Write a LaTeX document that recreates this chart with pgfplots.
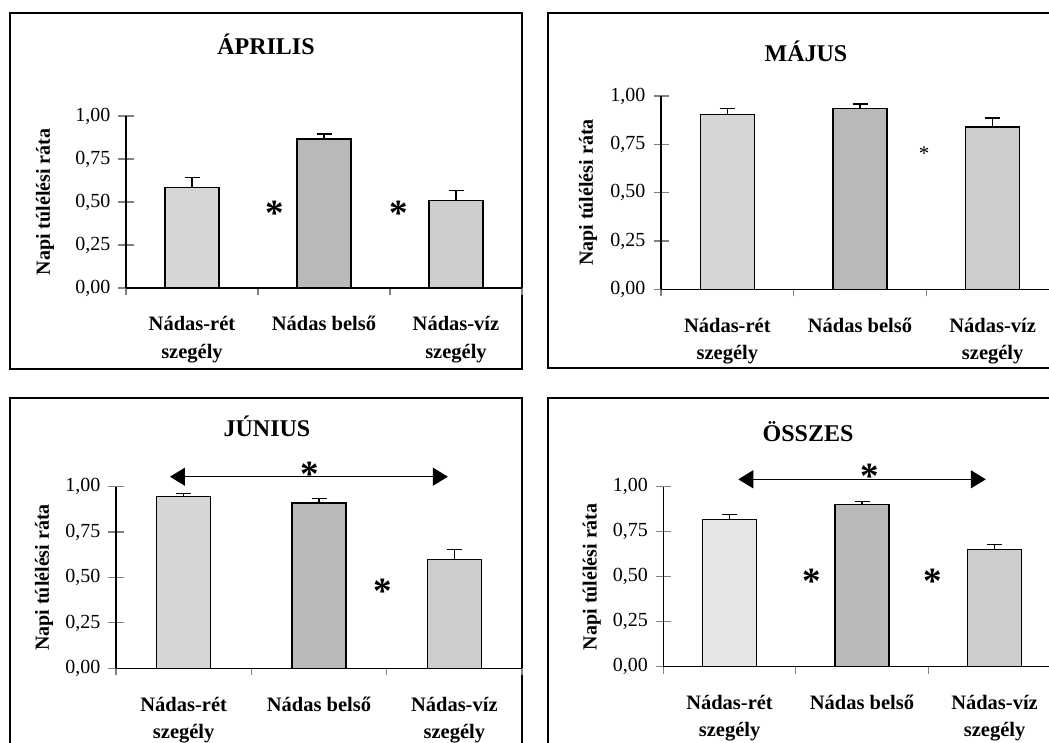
\documentclass[border=0pt]{standalone}
\usepackage{fontspec}
\setmainfont{Liberation Serif}
\usepackage{pgfplots}
\pgfplotsset{compat=1.18}
\usetikzlibrary{arrows.meta}

\definecolor{barA}{HTML}{D6D6D6}
\definecolor{barB}{HTML}{B9B9B9}
\definecolor{barC}{HTML}{CDCDCD}
\definecolor{barD}{HTML}{E6E6E6}

\newcommand{\astbig}{\bfseries\fontsize{37}{37}\selectfont *}
\newcommand{\astsmall}{\fontsize{21}{21}\selectfont *}

\pgfplotsset{
  panel/.style={
    scale only axis,
    axis x line=bottom, axis y line=left,
    axis line style={-, line width=1.2pt},
    xmin=-0.5, xmax=2.5, ymin=0, ymax=1, clip=false,
    xtick={0,1,2},
    xticklabels={{Nádas-rét\\szegély},{Nádas belső},{Nádas-víz\\szegély}},
    minor xtick={-0.5,0.5,1.5,2.5},
    ytick={0,0.25,0.5,0.75,1},
    /pgf/number format/fixed,
    /pgf/number format/fixed zerofill,
    /pgf/number format/precision=2,
    /pgf/number format/use comma,
    /pgf/number format/assume math mode=true,
    tick align=outside,
    major tick length=15pt,
    minor tick length=7pt,
    major x tick style={draw=none},
    major y tick style={line width=1.2pt, xshift=7.5pt},
    minor x tick style={line width=1.2pt},
    yticklabel style={font=\fontsize{20}{24}\selectfont, xshift=3pt},
    xticklabel style={font=\bfseries\fontsize{20.5}{27.5}\selectfont, align=center, yshift=-10pt},
    ylabel={Napi túlélési ráta},
    ylabel style={font=\bfseries\fontsize{20}{24}\selectfont, anchor=center},
  },
  bstyle/.style={ybar, bar width=54pt, bar shift=0pt, fill=#1, draw=black, line width=1.2pt,
    error bars/.cd, y dir=plus, y explicit,
    error bar style={line width=1.2pt, black},
    error mark=-,
    error mark options={rotate=90, mark size=7.5pt, line width=1.2pt, black}},
}

\begin{document}
\begin{tikzpicture}[x=1pt,y=1pt]
\useasboundingbox (0pt,0pt) rectangle (1049pt,743pt);
\fill[white] (0pt,0pt) rectangle (1049pt,743pt);

% frames
\draw[line width=1.5pt] (10pt,730pt) rectangle (522pt,374pt);
\draw[line width=1.5pt] (548pt,730pt) rectangle (1065pt,375pt);
\draw[line width=1.5pt] (10pt,345pt) rectangle (522pt,-20pt);
\draw[line width=1.5pt] (548pt,345pt) rectangle (1065pt,-20pt);

% titles
\node[font=\bfseries\fontsize{24}{24}\selectfont, anchor=base] at (266pt,688pt) {ÁPRILIS};
\node[font=\bfseries\fontsize{24}{24}\selectfont, anchor=base] at (806pt,681pt) {MÁJUS};
\node[font=\bfseries\fontsize{24}{24}\selectfont, anchor=base] at (267pt,306pt) {JÚNIUS};
\node[font=\bfseries\fontsize{24}{24}\selectfont, anchor=base] at (808pt,301pt) {ÖSSZES};

% ÁPRILIS
\begin{axis}[panel, at={(126pt,455pt)}, anchor=south west, width=396pt, height=172pt,
  ylabel style={at={(axis description cs:-0.2045,0.5)}}]
\addplot[bstyle=barA] coordinates {(0,0.585) +- (0,0.058)};
\addplot[bstyle=barB] coordinates {(1,0.866) +- (0,0.029)};
\addplot[bstyle=barC] coordinates {(2,0.508) +- (0,0.058)};
\node[inner sep=0pt, anchor=base, yshift=-17pt] at (axis cs:0.629,0.463) {\astbig};
\node[inner sep=0pt, anchor=base, yshift=-17pt] at (axis cs:1.568,0.463) {\astbig};
\end{axis}

% MÁJUS
\begin{axis}[panel, at={(661pt,453.7pt)}, anchor=south west, width=398pt, height=193.3pt,
  ylabel style={at={(axis description cs:-0.1834,0.5)}}]
\addplot[bstyle=barA] coordinates {(0,0.905) +- (0,0.029)};
\addplot[bstyle=barB] coordinates {(1,0.934) +- (0,0.025)};
\addplot[bstyle=barC] coordinates {(2,0.840) +- (0,0.046)};
\node[inner sep=0pt, anchor=base, yshift=-10pt] at (axis cs:1.484,0.717) {\astsmall};
\end{axis}

% JÚNIUS
\begin{axis}[panel, at={(116pt,74.7pt)}, anchor=south west, width=406pt, height=181.6pt,
  ylabel style={at={(axis description cs:-0.1773,0.5)}}]
\addplot[bstyle=barA] coordinates {(0,0.945) +- (0,0.018)};
\addplot[bstyle=barB] coordinates {(1,0.910) +- (0,0.027)};
\addplot[bstyle=barC] coordinates {(2,0.600) +- (0,0.055)};
\draw[line width=1.3pt, {Triangle[length=15pt,width=18pt]}-{Triangle[length=15pt,width=18pt]}]
  (axis cs:-0.101,1.055) -- (axis cs:1.952,1.055);
\node[inner sep=0pt, anchor=base, yshift=-17pt] at (axis cs:0.934,1.092) {\astbig};
\node[inner sep=0pt, anchor=base, yshift=-17pt] at (axis cs:1.468,0.449) {\astbig};
\end{axis}

% ÖSSZES
\begin{axis}[panel, at={(663.3pt,76.3pt)}, anchor=south west, width=397.5pt, height=180pt,
  ylabel style={at={(axis description cs:-0.180,0.5)}}]
\addplot[bstyle=barD] coordinates {(0,0.819) +- (0,0.026)};
\addplot[bstyle=barB] coordinates {(1,0.900) +- (0,0.019)};
\addplot[bstyle=barC] coordinates {(2,0.652) +- (0,0.028)};
\draw[line width=1.3pt, {Triangle[length=15pt,width=18pt]}-{Triangle[length=15pt,width=18pt]}]
  (axis cs:0.066,1.041) -- (axis cs:1.934,1.041);
\node[inner sep=0pt, anchor=base, yshift=-17pt] at (axis cs:1.06,1.083) {\astbig};
\node[inner sep=0pt, anchor=base, yshift=-17pt] at (axis cs:0.62,0.50) {\astbig};
\node[inner sep=0pt, anchor=base, yshift=-17pt] at (axis cs:1.53,0.50) {\astbig};
\end{axis}
\end{tikzpicture}
\end{document}
